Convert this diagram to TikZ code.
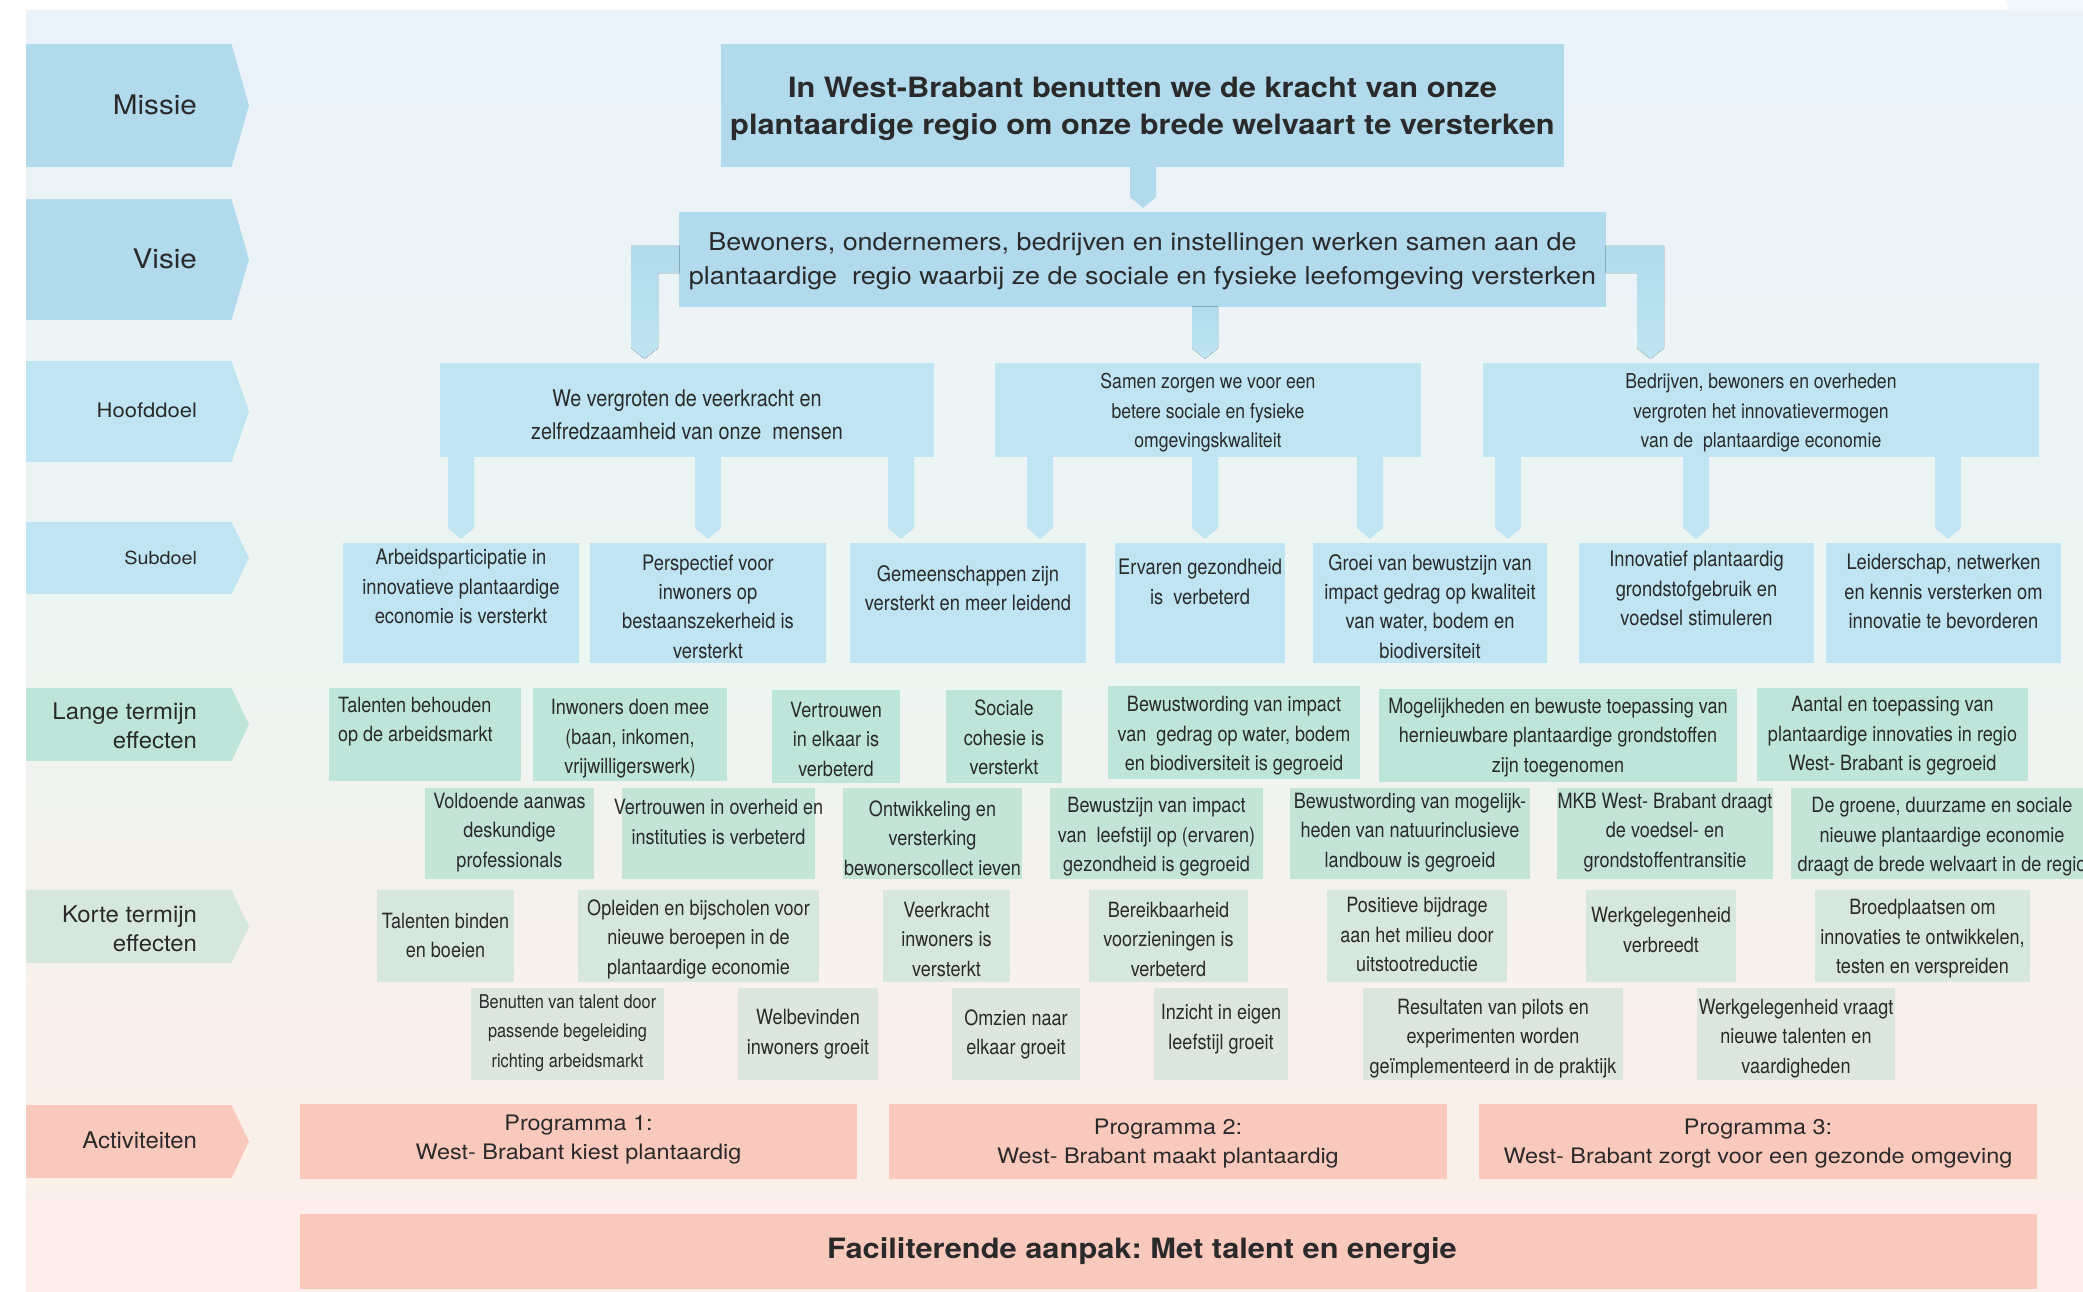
\documentclass[tikz,border=0pt]{standalone}
\usepackage{fontspec}
\setmainfont{TeX Gyre Heros}
\newfontfamily\regf{TeX Gyre Heros}[FakeStretch=1.1]
\newfontfamily\condf{TeX Gyre Heros}[FakeStretch=0.86]
\newfontfamily\widef{TeX Gyre Heros}[FakeStretch=1.04]
\usetikzlibrary{calc}
\frenchspacing
\definecolor{misblue}{HTML}{B1DAEC}
\definecolor{hdblue}{HTML}{BFE5F2}
\definecolor{ltgreen}{HTML}{BEE5DA}
\definecolor{ltgreenB}{HTML}{C3E4D7}
\definecolor{ktgreen}{HTML}{D6E7DD}
\definecolor{ktgreenB}{HTML}{DBE7DE}
\definecolor{actpink}{HTML}{FAC9BE}
\definecolor{inkc}{HTML}{2A2A2A}
\definecolor{bgA}{HTML}{FCEEEA}
\definecolor{bgB}{HTML}{FBEFEA}
\definecolor{bgC}{HTML}{F7F1EC}
\definecolor{bgD}{HTML}{F1F3EE}
\definecolor{bgE}{HTML}{EDF5F2}
\definecolor{bgF}{HTML}{ECF4F4}
\definecolor{bgG}{HTML}{EAF2FA}
\pgfdeclareverticalshading{bgshade}{100bp}{color(0bp)=(bgA); color(25bp)=(bgA); color(32.5bp)=(bgB); color(38.3bp)=(bgC); color(44.2bp)=(bgD); color(50bp)=(bgE); color(59.8bp)=(bgF); color(75bp)=(bgG); color(100bp)=(bgG)}
\tikzset{
  box/.style={rectangle, inner sep=0pt, outer sep=0pt, draw=none, fill=#1},
  tbase/.style={inner sep=0pt, outer sep=0pt, align=center, text=inkc},
  tmis/.style={tbase, font=\regf\bfseries\fontsize{28}{37}\selectfont},
  tfac/.style={tbase, font=\regf\bfseries\fontsize{28}{37}\selectfont},
  tvis/.style={tbase, font=\regf\fontsize{24.5}{34}\selectfont},
  tprog/.style={tbase, font=\regf\fontsize{21.3}{29}\selectfont},
  thdA/.style={tbase, font=\condf\fontsize{23}{33}\selectfont},
  thdB/.style={tbase, font=\condf\fontsize{20.5}{29.5}\selectfont},
  tsub/.style={tbase, font=\condf\fontsize{21.3}{29.3}\selectfont},
  teff/.style={tbase, font=\condf\fontsize{21}{29.5}\selectfont},
  teffS/.style={tbase, font=\condf\fontsize{19}{29.5}\selectfont},
  tlabA/.style={tbase, align=right, font=\regf\fontsize{27}{33}\selectfont},
  tlabB/.style={tbase, align=right, font=\regf\fontsize{20}{26}\selectfont},
  tlabC/.style={tbase, align=right, font=\regf\fontsize{18}{24}\selectfont},
  tlabW/.style={tbase, align=right, font=\widef\fontsize{23}{29}\selectfont},
}
% name, fill, x1, y1, x2, y2, text style, text centre y, text
\newcommand{\tb}[9]{%
  \node[box=#2, minimum width={(#5-#3)*1pt}, minimum height={(#6-#4)*1pt}, anchor=north west] (#1) at (#3,#4) {};
  \node[#7] (#1-t) at ({(#3+#5)/2},#8) {#9};}
% left label: name, fill, y1, y2, text style, text y, text
\newcommand{\lbl}[7]{%
  \node[box=#2, minimum width=206pt, minimum height={(#4-#3)*1pt}, anchor=north west] (#1) at (26,#3) {};
  \fill[#2] ([xshift=-0.5pt]#1.north east) -- ([xshift=17pt]#1.east) -- ([xshift=-0.5pt]#1.south east) -- cycle;
  \node[#5, anchor=east] (#1-t) at (197,#6) {#7};}
% stem connector: from, to, x, fill options
\newcommand{\stem}[4]{%
  \fill[#4] let \p1=(#1.south), \p2=(#2.north), \p3=(#3,0) in
    (\x3-13pt,\y1+0.5pt) -- (\x3+13pt,\y1+0.5pt) -- (\x3+13pt,\y2+15pt) -- (\x3,\y2+4pt) -- (\x3-13pt,\y2+15pt) -- cycle;}
\begin{document}
\begin{tikzpicture}[x=1pt,y=-1pt]
\useasboundingbox (0,0) rectangle (2083,1292);
\clip (0,0) rectangle (2083,1292);
\fill[white] (0,0) rectangle (2083,1292);
\shade[shading=bgshade] (26,11) rectangle (2083,1292);
\fill[color=bgG!60!white] (2006,0) -- (2083,0) -- (2083,11.5) -- (2009,11.5) -- cycle;

% ---- left labels
\lbl{lmis}{misblue}{44}{167}{tlabA}{105}{Missie}
\lbl{lvis}{misblue}{199}{320}{tlabA}{259}{Visie}
\lbl{lhd}{hdblue}{361}{462}{tlabB}{410}{Hoofddoel}
\lbl{lsub}{hdblue}{522}{594}{tlabC}{558}{Subdoel}
\lbl{llt}{ltgreen}{688}{761}{tlabW}{726}{Lange termijn\\effecten}
\lbl{lkt}{ktgreen}{890}{963}{tlabW}{929}{Korte termijn\\effecten}
\lbl{lact}{actpink}{1105}{1178}{tlabW}{1140}{Activiteiten}

% ---- missie / visie
\tb{mis}{misblue}{721}{44}{1564}{167}{tmis}{109}{In West-Brabant benutten we de kracht van onze\\plantaardige regio om onze brede welvaart te versterken}
\tb{vis}{misblue}{679}{212}{1606}{307}{tvis}{261.5}{Bewoners, ondernemers, bedrijven en instellingen werken samen aan de\\plantaardige~ regio waarbij ze de sociale en fysieke leefomgeving versterken}

% ---- hoofddoelen
\tb{hd1}{hdblue}{440}{363}{934}{457}{thdA}{414.5}{We vergroten de veerkracht en\\zelfredzaamheid van onze~ mensen}
\tb{hd2}{hdblue}{995}{363}{1421}{457}{thdB}{413}{Samen zorgen we voor een\\betere sociale en fysieke\\omgevingskwaliteit}
\tb{hd3}{hdblue}{1483}{363}{2039}{457}{thdB}{413}{Bedrijven, bewoners en overheden\\vergroten het innovatievermogen\\van de~ plantaardige economie}

% ---- subdoelen
\tb{s1}{hdblue}{343}{543}{579}{663}{tsub}{586.5}{Arbeidsparticipatie in\\innovatieve plantaardige\\economie is versterkt}
\tb{s2}{hdblue}{590}{543}{826}{663}{tsub}{606.5}{Perspectief voor\\inwoners op\\bestaanszekerheid is\\versterkt}
\tb{s3}{hdblue}{850}{543}{1086}{663}{tsub}{588.5}{Gemeenschappen zijn\\versterkt en meer leidend}
\tb{s4}{hdblue}{1115}{543}{1285}{663}{tsub}{582}{Ervaren gezondheid\\is~ verbeterd}
\tb{s5}{hdblue}{1313}{543}{1547}{663}{tsub}{606.5}{Groei van bewustzijn van\\impact gedrag op kwaliteit\\van water, bodem en\\biodiversiteit}
\tb{s6}{hdblue}{1579}{543}{1814}{663}{tsub}{588.5}{Innovatief plantaardig\\grondstofgebruik en\\voedsel stimuleren}
\tb{s7}{hdblue}{1826}{543}{2061}{663}{tsub}{591.5}{Leiderschap, netwerken\\en kennis versterken om\\innovatie te bevorderen}

% ---- connectors
\stem{mis}{vis}{1143}{misblue}
\stem{vis}{hd2}{1205}{top color=misblue, bottom color=hdblue}
\fill[top color=misblue, bottom color=hdblue] let \p1=(vis.north west), \p2=(hd1.north), \p3=(644.5,0) in
  (\x1+0.5pt,\y1-34pt) -- (\x3-13.5pt,\y1-34pt) -- (\x3-13.5pt,\y2+15pt) -- (\x3,\y2+4pt) -- (\x3+13.5pt,\y2+15pt) -- (\x3+13.5pt,\y1-61pt) -- (\x1+0.5pt,\y1-61pt) -- cycle;
\fill[top color=misblue, bottom color=hdblue] let \p1=(vis.north east), \p2=(hd3.north), \p3=(1650.5,0) in
  (\x1-0.5pt,\y1-34pt) -- (\x3+13.5pt,\y1-34pt) -- (\x3+13.5pt,\y2+15pt) -- (\x3,\y2+4pt) -- (\x3-13.5pt,\y2+15pt) -- (\x3-13.5pt,\y1-61pt) -- (\x1-0.5pt,\y1-61pt) -- cycle;
\stem{hd1}{s1}{461}{hdblue}
\stem{hd1}{s2}{708}{hdblue}
\stem{hd1}{s3}{901}{hdblue}
\stem{hd2}{s3}{1040}{hdblue}
\stem{hd2}{s4}{1205}{hdblue}
\stem{hd2}{s5}{1370}{hdblue}
\stem{hd3}{s5}{1508}{hdblue}
\stem{hd3}{s6}{1696}{hdblue}
\stem{hd3}{s7}{1948}{hdblue}

% ---- lange termijn effecten
\node[box=ltgreen, minimum width=192pt, minimum height=93pt, anchor=north west] (L1) at (329,688) {};
\node[teff, align=left, anchor=west] (L1-t) at (338,721.5) {Talenten behouden\\op de arbeidsmarkt};
\tb{L2}{ltgreen}{533}{688}{727}{781}{teff}{739}{Inwoners doen mee\\(baan, inkomen,\\vrijwilligerswerk)}
\tb{L3}{ltgreen}{772}{690}{900}{783}{teff}{739}{Vertrouwen\\in elkaar is\\verbeterd}
\tb{L4}{ltgreen}{946}{690}{1062}{783}{teff}{737.5}{Sociale\\cohesie is\\versterkt}
\tb{L5}{ltgreen}{1108}{686}{1360}{779}{teff}{736}{Bewustwording van impact\\van~ gedrag op water, bodem\\en biodiversiteit is gegroeid}
\tb{L6}{ltgreen}{1379}{689}{1737}{782}{teff}{737.5}{Mogelijkheden en bewuste toepassing van\\hernieuwbare plantaardige grondstoffen\\zijn toegenomen}
\tb{L7}{ltgreen}{1757}{688}{2028}{781}{teff}{736}{Aantal en toepassing van\\plantaardige innovaties in regio\\West- Brabant is gegroeid}
\tb{L8}{ltgreenB}{425}{788}{594}{879}{teff}{832.5}{Voldoende aanwas\\deskundige\\professionals}
\tb{L9}{ltgreenB}{622}{788}{815}{879}{teff}{822}{Vertrouwen in overheid en\\instituties is verbeterd}
\tb{L10}{ltgreenB}{843}{788}{1022}{879}{teff}{838}{Ontwikkeling en\\versterking\\bewonerscollect ieven}
\tb{L11}{ltgreenB}{1050}{788}{1263}{879}{teff}{837}{Bewustzijn van impact\\van~ leefstijl op (ervaren)\\gezondheid is gegroeid}
\tb{L12}{ltgreenB}{1290}{788}{1530}{879}{teff}{832.5}{Bewustwording van mogelijk-\\heden van natuurinclusieve\\landbouw is gegroeid}
\tb{L13}{ltgreenB}{1557}{788}{1773}{879}{teff}{832.5}{MKB West- Brabant draagt\\de voedsel- en\\grondstoffentransitie}
\tb{L14}{ltgreenB}{1791}{788}{2093}{879}{teff}{837}{De groene, duurzame en sociale\\nieuwe plantaardige economie\\draagt de brede welvaart in de regio}

% ---- korte termijn effecten
\tb{K1}{ktgreen}{377}{890}{514}{982}{teff}{935.5}{Talenten binden\\en boeien}
\tb{K2}{ktgreen}{578}{890}{819}{982}{teff}{939}{Opleiden en bijscholen voor\\nieuwe beroepen in de\\plantaardige economie}
\tb{K3}{ktgreen}{883}{890}{1010}{982}{teff}{939}{Veerkracht\\inwoners is\\versterkt}
\tb{K4}{ktgreen}{1089}{890}{1248}{982}{teff}{939}{Bereikbaarheid\\voorzieningen is\\verbeterd}
\tb{K5}{ktgreen}{1327}{890}{1507}{982}{teff}{934.5}{Positieve bijdrage\\aan het milieu door\\uitstootreductie}
\tb{K6}{ktgreen}{1586}{890}{1736}{982}{teff}{930}{Werkgelegenheid\\verbreedt}
\tb{K7}{ktgreen}{1815}{890}{2030}{982}{teff}{939}{Broedplaatsen om\\innovaties te ontwikkelen,\\testen en verspreiden}
\tb{K8}{ktgreenB}{471}{988}{664}{1080}{teffS}{1033}{Benutten van talent door\\passende begeleiding\\richting arbeidsmarkt}
\tb{K9}{ktgreenB}{738}{988}{878}{1080}{teff}{1034}{Welbevinden\\inwoners groeit}
\tb{K10}{ktgreenB}{952}{988}{1080}{1080}{teff}{1034.5}{Omzien naar\\elkaar groeit}
\tb{K11}{ktgreenB}{1154}{988}{1288}{1080}{teff}{1029}{Inzicht in eigen\\leefstijl groeit}
\tb{K12}{ktgreenB}{1363}{988}{1623}{1080}{teff}{1038.5}{Resultaten van pilots en\\experimenten worden\\geïmplementeerd in de praktijk}
\tb{K13}{ktgreenB}{1697}{988}{1895}{1080}{teff}{1038.5}{Werkgelegenheid vraagt\\nieuwe talenten en\\vaardigheden}

% ---- activiteiten
\tb{p1}{actpink}{300}{1104}{857}{1179}{tprog}{1140}{Programma 1:\\West- Brabant kiest plantaardig}
\tb{p2}{actpink}{889}{1104}{1447}{1179}{tprog}{1144}{Programma 2:\\West- Brabant maakt plantaardig}
\tb{p3}{actpink}{1479}{1104}{2037}{1179}{tprog}{1144}{Programma 3:\\West- Brabant zorgt voor een gezonde omgeving}
\node[box=actpink, minimum width=1737pt, minimum height=75pt, anchor=north west] (fac) at (300,1214) {};
\node[tfac] (fac-t) at (1142,1251.5) {Faciliterende aanpak: Met talent en energie};
\end{tikzpicture}
\end{document}
